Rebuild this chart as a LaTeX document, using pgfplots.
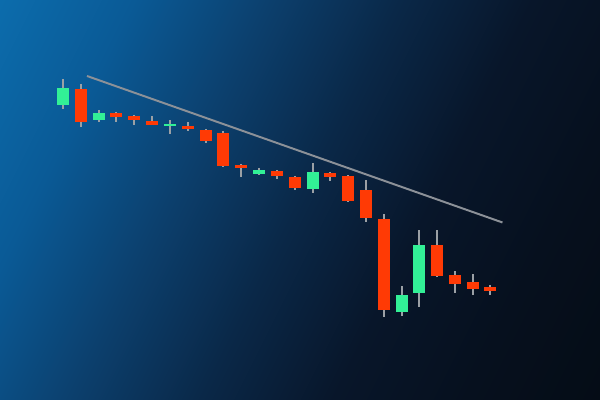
\documentclass[border=0pt]{standalone}
\usepackage{pgfplots}
\pgfplotsset{compat=1.18}
\definecolor{cgreen}{RGB}{50,240,150}
\definecolor{cred}{RGB}{255,58,5}
\definecolor{cwick}{RGB}{155,160,165}
\definecolor{ctrend}{RGB}{140,145,152}
\definecolor{bg0}{RGB}{12,108,172}
\definecolor{bg1}{RGB}{10,90,150}
\definecolor{bg2}{RGB}{12,64,110}
\definecolor{bg3}{RGB}{10,40,72}
\definecolor{bg4}{RGB}{8,22,42}
\definecolor{bg5}{RGB}{6,16,30}
\definecolor{bg6}{RGB}{5,12,22}
\pgfdeclarehorizontalshading{bgdiag}{100bp}{color(0bp)=(bg0); color(16.46bp)=(bg0); color(27.64bp)=(bg1); color(38.82bp)=(bg2); color(50bp)=(bg3); color(61.18bp)=(bg4); color(72.36bp)=(bg5); color(83.54bp)=(bg6); color(100bp)=(bg6)}
\begin{document}
\begin{tikzpicture}
\begin{axis}[
  scale only axis, width=15cm, height=10cm,
  xmin=0, xmax=600, ymin=0, ymax=400,
  axis lines=none, xtick=\empty, ytick=\empty,
  axis background/.style={shade, shading=bgdiag, shading angle=-26.565},
  unbounded coords=jump,
  up/.style={fill=cgreen, draw=none},
  dn/.style={fill=cred, draw=none},
]
% trend line
\addplot[ctrend, line width=1.4pt] coordinates {(87,324) (502.5,177.5)};
% wicks
\addplot[cwick, line width=1.4pt] coordinates {
(63,321) (63,291) (63,nan)
(81,316) (81,273) (81,nan)
(99,290) (99,278) (99,nan)
(116,288) (116,278) (116,nan)
(134,285) (134,274.5) (134,nan)
(152,284) (152,274.5) (152,nan)
(170,279.5) (170,266) (170,nan)
(188,277.5) (188,268.5) (188,nan)
(206,271) (206,256.5) (206,nan)
(223,269) (223,232.5) (223,nan)
(241,236) (241,222.5) (241,nan)
(259,232) (259,224.5) (259,nan)
(277,229.5) (277,221) (277,nan)
(295,224) (295,209.5) (295,nan)
(313,236.5) (313,206.5) (313,nan)
(330,228) (330,218.5) (330,nan)
(348,224.5) (348,197.5) (348,nan)
(366,219.5) (366,177.5) (366,nan)
(384,185.5) (384,82.5) (384,nan)
(402,113.5) (402,83.5) (402,nan)
(419,169.5) (419,92.5) (419,nan)
(437,169.5) (437,122.5) (437,nan)
(455,128.5) (455,107) (455,nan)
(473,125.5) (473,105) (473,nan)
(490,114.5) (490,105)
};
% bodies
\addplot[up] coordinates {(57,295) (69,295) (69,312) (57,312)} -- cycle;
\addplot[dn] coordinates {(75,278) (87,278) (87,311) (75,311)} -- cycle;
\addplot[up] coordinates {(93,280) (105,280) (105,287) (93,287)} -- cycle;
\addplot[dn] coordinates {(110,282.5) (122,282.5) (122,286.5) (110,286.5)} -- cycle;
\addplot[dn] coordinates {(128,279.5) (140,279.5) (140,283.5) (128,283.5)} -- cycle;
\addplot[dn] coordinates {(146,274.5) (158,274.5) (158,278.5) (146,278.5)} -- cycle;
\addplot[up] coordinates {(164,273.5) (176,273.5) (176,275.5) (164,275.5)} -- cycle;
\addplot[dn] coordinates {(182,270.5) (194,270.5) (194,274) (182,274)} -- cycle;
\addplot[dn] coordinates {(200,258.5) (212,258.5) (212,270) (200,270)} -- cycle;
\addplot[dn] coordinates {(217,234) (229,234) (229,267) (217,267)} -- cycle;
\addplot[dn] coordinates {(235,231.5) (247,231.5) (247,235) (235,235)} -- cycle;
\addplot[up] coordinates {(253,226) (265,226) (265,230) (253,230)} -- cycle;
\addplot[dn] coordinates {(271,223.5) (283,223.5) (283,228.5) (271,228.5)} -- cycle;
\addplot[dn] coordinates {(289,212) (301,212) (301,223) (289,223)} -- cycle;
\addplot[up] coordinates {(307,210.5) (319,210.5) (319,227.5) (307,227.5)} -- cycle;
\addplot[dn] coordinates {(324,223) (336,223) (336,227) (324,227)} -- cycle;
\addplot[dn] coordinates {(342,199) (354,199) (354,223.5) (342,223.5)} -- cycle;
\addplot[dn] coordinates {(360,182) (372,182) (372,210) (360,210)} -- cycle;
\addplot[dn] coordinates {(378,90) (390,90) (390,181) (378,181)} -- cycle;
\addplot[up] coordinates {(396,87.5) (408,87.5) (408,105) (396,105)} -- cycle;
\addplot[up] coordinates {(413,106.5) (425,106.5) (425,155) (413,155)} -- cycle;
\addplot[dn] coordinates {(431,123.5) (443,123.5) (443,154.5) (431,154.5)} -- cycle;
\addplot[dn] coordinates {(449,116) (461,116) (461,125) (449,125)} -- cycle;
\addplot[dn] coordinates {(467,111) (479,111) (479,118) (467,118)} -- cycle;
\addplot[dn] coordinates {(484,109) (496,109) (496,113) (484,113)} -- cycle;
\end{axis}
\end{tikzpicture}
\end{document}
